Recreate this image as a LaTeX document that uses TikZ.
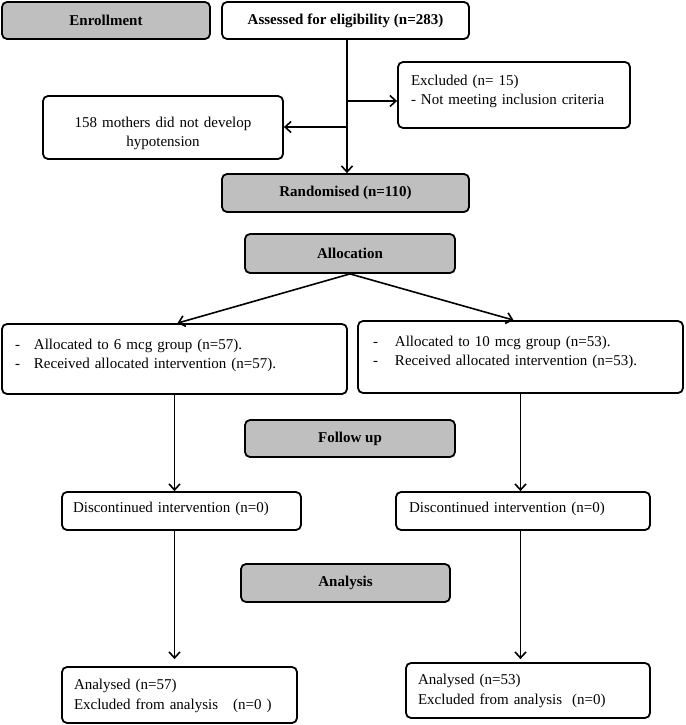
\documentclass[tikz,border=0pt]{standalone}
\usepackage{fontspec}
\setmainfont{Liberation Serif}
\usetikzlibrary{arrows.meta,positioning,calc}
\tikzset{
>={Straight Barb[length=6pt,width=11pt]},
  headbox/.style={
    rectangle,
    rounded corners=5pt,
    fill=black!25,
    draw=black, line width=1.8pt,
    font=\fontsize{15}{19}\selectfont\bfseries,
    text centered},
  whitebox/.style={
    rectangle,
    rounded corners=5pt,
    draw=black, line width=1.8pt,
    font=\fontsize{15}{19}\selectfont,
    inner ysep=0pt},
  line/.style={draw, line width=1.6pt, ->},
}
\newcommand{\dashitem}[1][19pt]{\makebox[#1][l]{-}}

\begin{document}
\begin{tikzpicture}[
    x=1pt, y=-1pt,
    leftbox/.style={whitebox, align=left},
    midbox/.style={whitebox, align=center}
    ]
    \useasboundingbox (0,0) rectangle (685,725);

    %enrollment
    \node[headbox, minimum width=208, minimum height=37] (enroll) at (106,20.5) {Enrollment};
    \node[whitebox, font=\fontsize{15}{19}\selectfont\bfseries,
        minimum width=247, minimum height=37] (assess) at (345.5,20.5)
        {Assessed for eligibility\ (n=283)};
    \node[leftbox, text width=206, inner xsep=13, text height=23, text depth=43]
        (excl) at (514,95) {Excluded\ (n= 15)\\- Not meeting\ inclusion\ criteria};
    \node[midbox, text width=226, inner xsep=7, text height=31, text depth=32]
        (moth) at (163,127.5) {158 mothers\ did not develop\\hypotension};
    \node[headbox, minimum width=247, minimum height=38] (rand) at (345.5,193) {Randomised (n=110)};

    %allocation
    \node[headbox, minimum width=210, minimum height=39] (alloc) at (350,253.5) {Allocation};
    \node[leftbox, text width=319, inner xsep=13, text height=25, text depth=45]
        (grp6) at (174.5,359)
        {\dashitem Allocated to 6 mcg group (n=57).\\
         \dashitem Received allocated\ intervention\ (n=57).};
    \node[leftbox, text width=295, inner xsep=15, text height=25, text depth=47]
        (grp10) at (520.5,357)
        {\dashitem[17pt] Allocated to 10 mcg group (n=53).\\
         \dashitem[17pt] Received allocated\ intervention\ (n=53).};

    %follow up
    \node[headbox, minimum width=210, minimum height=37] (follow) at (350,438.5) {Follow\ up};
    \node[leftbox, text width=217, inner xsep=11, text height=20, text depth=18]
        (disc6) at (181.5,511) {Discontinued\ intervention\ (n=0)};
    \node[leftbox, text width=228, inner xsep=13, text height=20, text depth=18]
        (disc10) at (523,511) {Discontinued\ intervention\ (n=0)};

    %analysis
    \node[headbox, minimum width=209, minimum height=38] (analysis) at (345.5,583) {Analysis};
    \node[leftbox, text width=211, inner xsep=12, text height=22, text depth=34]
        (ana6) at (179.5,695) {Analysed\ (n=57)\\[1pt]Excluded\ from\ analysis\quad (n=0 )};
    \node[leftbox, text width=220, inner xsep=12, text height=21, text depth=34]
        (ana10) at (528,690.5) {Analysed\ (n=53)\\[1pt]Excluded\ from\ analysis\ \ (n=0)};

    %arrows
    \coordinate (exclturn) at (347,101);
    \coordinate (mothturn) at (347,127);
    \draw[line] (assess.south -| exclturn) -- (rand.north -| exclturn);
    \draw[line] (exclturn) -- (exclturn -| excl.west);
    \draw[line] (mothturn) -- (mothturn -| moth.east);
    \draw[line] (alloc.south) -- ([xshift=3]grp6.north);
    \draw[line] (alloc.south) -- ([xshift=-7]grp10.north);
    \draw[line] (grp6.south) -- (grp6.south |- disc6.north);
    \draw[line, shorten >=7pt] (grp6.south |- disc6.south) -- (grp6.south |- ana6.north);
    \draw[line] (grp10.south) -- (grp10.south |- disc10.north);
    \draw[line, shorten >=3pt] (grp10.south |- disc10.south) -- (grp10.south |- ana10.north);

\end{tikzpicture}
\end{document}
